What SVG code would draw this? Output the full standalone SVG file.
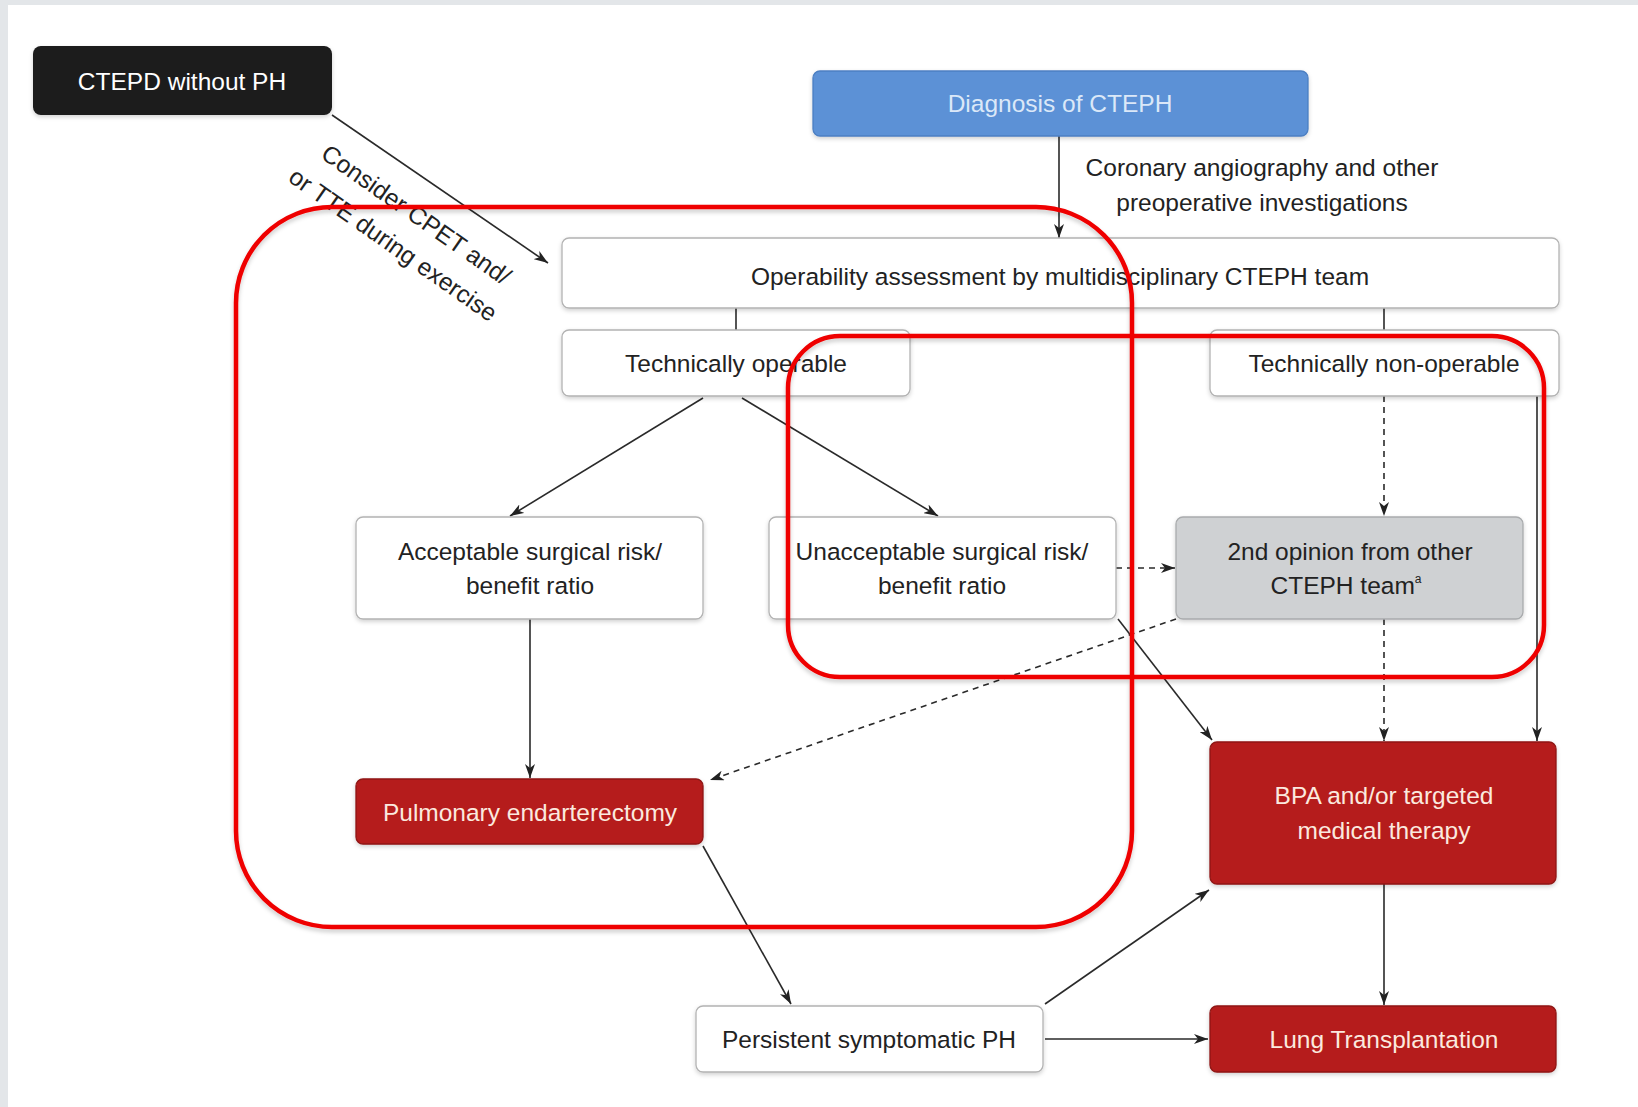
<svg xmlns="http://www.w3.org/2000/svg" width="1638" height="1107" viewBox="0 0 1638 1107">
<style>
.t{font-family:"Liberation Sans",Arial,Helvetica,sans-serif;font-size:24.5px;fill:#222;text-anchor:middle}
.tw{fill:#fbe9df}
.tb{fill:#dbe8f8}
.wb{fill:#fff;stroke:#b3b3b3;stroke-width:1.3}
.rb{fill:#b51e1b;stroke:#8f1613;stroke-width:1.3}
.c{fill:none;stroke:#2a2a2a;stroke-width:1.6}
.d{stroke-dasharray:6 5}
.ann{fill:none;stroke:#ef0000;stroke-width:4.5}
</style>
<defs>
<marker id="ah" viewBox="0 0 14 10" refX="14" refY="5" markerWidth="14" markerHeight="10" orient="auto" markerUnits="userSpaceOnUse">
<path d="M0,0 L14,5 L0,10 L4,5 z" fill="#222"/>
</marker>
<filter id="sh" x="-10%" y="-10%" width="120%" height="130%">
<feDropShadow dx="0" dy="2" stdDeviation="2" flood-color="#000" flood-opacity="0.18"/>
</filter>
<filter id="ash" x="-5%" y="-5%" width="110%" height="110%">
<feDropShadow dx="0" dy="3" stdDeviation="2" flood-color="#000" flood-opacity="0.2"/>
</filter>
</defs>
<rect x="0" y="0" width="1638" height="1107" fill="#e3e6e9"/>
<rect x="8" y="5" width="1630" height="1102" fill="#fff"/>

<g id="connectors">
<line class="c" x1="332" y1="115" x2="548" y2="263" marker-end="url(#ah)"/>
<line class="c" x1="1059" y1="136" x2="1059" y2="238" marker-end="url(#ah)"/>
<line class="c" x1="736" y1="308" x2="736" y2="330"/>
<line class="c" x1="1384" y1="308" x2="1384" y2="330"/>
<line class="c" x1="703" y1="398" x2="510" y2="516" marker-end="url(#ah)"/>
<line class="c" x1="742" y1="398" x2="938" y2="516" marker-end="url(#ah)"/>
<line class="c d" x1="1384" y1="396" x2="1384" y2="516" marker-end="url(#ah)"/>
<line class="c" x1="1537" y1="396" x2="1537" y2="741" marker-end="url(#ah)"/>
<line class="c d" x1="1116" y1="568" x2="1175" y2="568" marker-end="url(#ah)"/>
<line class="c d" x1="1176" y1="619" x2="710" y2="780" marker-end="url(#ah)"/>
<line class="c d" x1="1384" y1="619" x2="1384" y2="741" marker-end="url(#ah)"/>
<line class="c" x1="1118" y1="619" x2="1212" y2="740" marker-end="url(#ah)"/>
<line class="c" x1="530" y1="619" x2="530" y2="778" marker-end="url(#ah)"/>
<line class="c" x1="703" y1="846" x2="791" y2="1004" marker-end="url(#ah)"/>
<line class="c" x1="1045" y1="1004" x2="1209" y2="890" marker-end="url(#ah)"/>
<line class="c" x1="1045" y1="1039" x2="1208" y2="1039" marker-end="url(#ah)"/>
<line class="c" x1="1384" y1="884" x2="1384" y2="1005" marker-end="url(#ah)"/>
<g transform="translate(416,215) rotate(35)"><text class="t" x="0" y="8">Consider CPET and/</text></g>
<g transform="translate(393,245) rotate(35)"><text class="t" x="0" y="8">or TTE during exercise</text></g>
</g>

<g id="ctepd">
<rect x="33" y="46" width="299" height="69" rx="8" fill="#1b1b1b" filter="url(#sh)"/>
<text class="t" x="182" y="90" style="fill:#fff">CTEPD without PH</text>
</g>
<g id="diagnosis">
<rect x="813" y="71" width="495" height="65" rx="7" fill="#5b91d6" stroke="#4c7fc2" stroke-width="1.3" filter="url(#sh)"/>
<text class="t tb" x="1060" y="112">Diagnosis of CTEPH</text>
</g>
<g id="coronary">
<text class="t" x="1262" y="176">Coronary angiography and other</text>
<text class="t" x="1262" y="211">preoperative investigations</text>
</g>
<g id="operability">
<rect class="wb" x="562" y="238" width="997" height="70" rx="7" filter="url(#sh)"/>
<text class="t" x="1060" y="285">Operability assessment by multidisciplinary CTEPH team</text>
</g>
<g id="tech-operable">
<rect class="wb" x="562" y="330" width="348" height="66" rx="7" filter="url(#sh)"/>
<text class="t" x="736" y="372">Technically operable</text>
</g>
<g id="tech-nonoperable">
<rect class="wb" x="1210" y="330" width="349" height="66" rx="7" filter="url(#sh)"/>
<text class="t" x="1384" y="372">Technically non-operable</text>
</g>
<g id="acceptable">
<rect class="wb" x="356" y="517" width="347" height="102" rx="7" filter="url(#sh)"/>
<text class="t" x="530" y="560">Acceptable surgical risk/</text>
<text class="t" x="530" y="594">benefit ratio</text>
</g>
<g id="unacceptable">
<rect class="wb" x="769" y="517" width="347" height="102" rx="7" filter="url(#sh)"/>
<text class="t" x="942" y="560">Unacceptable surgical risk/</text>
<text class="t" x="942" y="594">benefit ratio</text>
</g>
<g id="second-opinion">
<rect x="1176" y="517" width="347" height="102" rx="7" fill="#cfd1d3" stroke="#a9abad" stroke-width="1.3" filter="url(#sh)"/>
<text class="t" x="1350" y="560">2nd opinion from other</text>
<text class="t" x="1346" y="594">CTEPH team<tspan font-size="12" dy="-11">a</tspan></text>
</g>
<g id="pea">
<rect class="rb" x="356" y="779" width="347" height="65" rx="7" filter="url(#sh)"/>
<text class="t tw" x="530" y="821">Pulmonary endarterectomy</text>
</g>
<g id="bpa">
<rect class="rb" x="1210" y="742" width="346" height="142" rx="7" filter="url(#sh)"/>
<text class="t tw" x="1384" y="804">BPA and/or targeted</text>
<text class="t tw" x="1384" y="839">medical therapy</text>
</g>
<g id="persistent">
<rect class="wb" x="696" y="1006" width="347" height="66" rx="7" filter="url(#sh)"/>
<text class="t" x="869" y="1048">Persistent symptomatic PH</text>
</g>
<g id="lung">
<rect class="rb" x="1210" y="1006" width="346" height="66" rx="7" filter="url(#sh)"/>
<text class="t tw" x="1384" y="1048">Lung Transplantation</text>
</g>

<g id="annotations" filter="url(#ash)">
<rect class="ann" x="236" y="207" width="896" height="720" rx="96" ry="96"/>
<rect class="ann" x="788" y="336" width="756" height="341" rx="52" ry="52"/>
</g>
</svg>
